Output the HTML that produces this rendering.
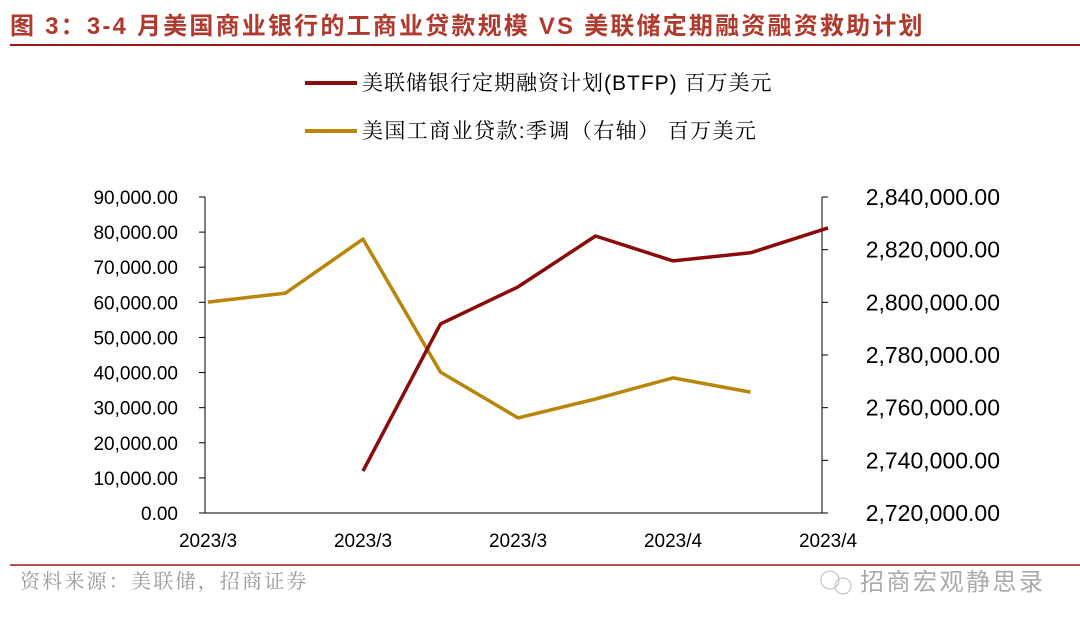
<!DOCTYPE html>
<html><head><meta charset="utf-8"><style>
html,body{margin:0;padding:0;background:#fff;width:1080px;height:631px;overflow:hidden}
svg{display:block}
</style></head><body>
<svg id="chart" width="1080" height="631" xmlns="http://www.w3.org/2000/svg">
<text x="10" y="34" font-family="'Liberation Sans','Noto Sans CJK SC',sans-serif" font-size="24" font-weight="bold" fill="#b03a2e" letter-spacing="2.2">图 3：3-4 月美国商业银行的工商业贷款规模 VS 美联储定期融资融资救助计划</text>
<line x1="10" y1="45" x2="1080" y2="45" stroke="#9b1b1b" stroke-width="2"/>
<g>
<line x1="305" y1="83" x2="357" y2="83" stroke="#8b0a0a" stroke-width="4"/>
<text x="362" y="90" font-family="'Liberation Sans','Noto Serif CJK SC',serif" font-size="21" fill="#000" letter-spacing="1">美联储银行定期融资计划(BTFP) 百万美元</text>
<line x1="305" y1="131" x2="357" y2="131" stroke="#b8860b" stroke-width="4"/>
<text x="362" y="138" font-family="'Liberation Sans','Noto Serif CJK SC',serif" font-size="21" fill="#000" letter-spacing="1.4">美国工商业贷款:季调（右轴） 百万美元</text>
</g>
<g id="plot"></g>
<line x1="10" y1="565" x2="1080" y2="565" stroke="#9b1b1b" stroke-width="1.5"/>
<text x="20" y="588" font-family="'Liberation Sans','Noto Serif CJK SC',serif" font-size="20" fill="#999" letter-spacing="2.2">资料来源：美联储，招商证券</text>
<text x="860" y="590" font-family="'Liberation Sans','Noto Sans CJK SC',sans-serif" font-size="24" fill="#aaa" letter-spacing="2.5">招商宏观静思录</text>
<circle cx="830" cy="580" r="9" fill="none" stroke="#bbb"/>
<circle cx="843" cy="586" r="8" fill="none" stroke="#bbb"/>
</svg>
<script>
const categories=["2023/3","2023/3","2023/3","2023/3","2023/3","2023/3","2023/4","2023/4","2023/4"];
const btfpValues=[null,null,11967,53846,64400,78900,71800,74100,81200];
const loanValues=[2800100,2803500,2824000,2773500,2756100,2763300,2771300,2765900,null];
const leftTicks=[0,10000,20000,30000,40000,50000,60000,70000,80000,90000];
const rightTicks=[2720000,2740000,2760000,2780000,2800000,2820000,2840000];
const xLabelIdx=[0,2,4,6,8];

const NS="http://www.w3.org/2000/svg";
const g=document.getElementById('plot');
const X0=208,X1=828,YB=513,YT=197;
const xs=i=>X0+(X1-X0)*i/(categories.length-1);
const yl=v=>YB-(v-0)/(90000-0)*(YB-YT);
const yr=v=>YB-(v-2720000)/(2840000-2720000)*(YB-YT);
const F="'Liberation Sans',sans-serif";
function mk(t,a){const e=document.createElementNS(NS,t);for(const k in a)e.setAttribute(k,a[k]);g.appendChild(e);return e;}
const fmt=v=>v.toLocaleString('en-US',{minimumFractionDigits:2,maximumFractionDigits:2});

let e=mk('line',{x1:205,y1:YT,x2:205,y2:YB,stroke:'#000'});


e=mk('line',{x1:822,y1:YT,x2:822,y2:YB,stroke:'#000'});


e=mk('line',{x1:205,y1:YB,x2:822,y2:YB,stroke:'#000'});


leftTicks.forEach(v=>{
  const y=yl(v);
  mk('line',{x1:199,y1:y,x2:205,y2:y,stroke:'#000'});
  const t=mk('text',{x:178,y:y+7,'text-anchor':'end','font-family':F,'font-size':19,fill:'#000'});
  t.textContent=fmt(v);
  
  
});
rightTicks.forEach(v=>{
  const y=yr(v);
  mk('line',{x1:822,y1:y,x2:828,y2:y,stroke:'#000'});
  const t=mk('text',{x:1000,y:y+8,'text-anchor':'end','font-family':F,'font-size':23,fill:'#000'});
  t.textContent=fmt(v);
  
  
});
xLabelIdx.forEach(i=>{
  const t=mk('text',{x:xs(i),y:547,'text-anchor':'middle','font-family':F,'font-size':19,fill:'#000'});
  t.textContent=categories[i];
  
  
});
function series(vals,sc,color,name){
  const pts=[];vals.forEach((v,i)=>{if(v!=null)pts.push(xs(i).toFixed(1)+','+sc(v).toFixed(1));});
  const p=mk('polyline',{points:pts.join(' '),fill:'none',stroke:color,'stroke-width':3.5,'stroke-linejoin':'round'});
  
  
}
series(loanValues,yr,'#b8860b','line-loans');
series(btfpValues,yl,'#8b0a0a','line-btfp');
</script>
</body></html>
